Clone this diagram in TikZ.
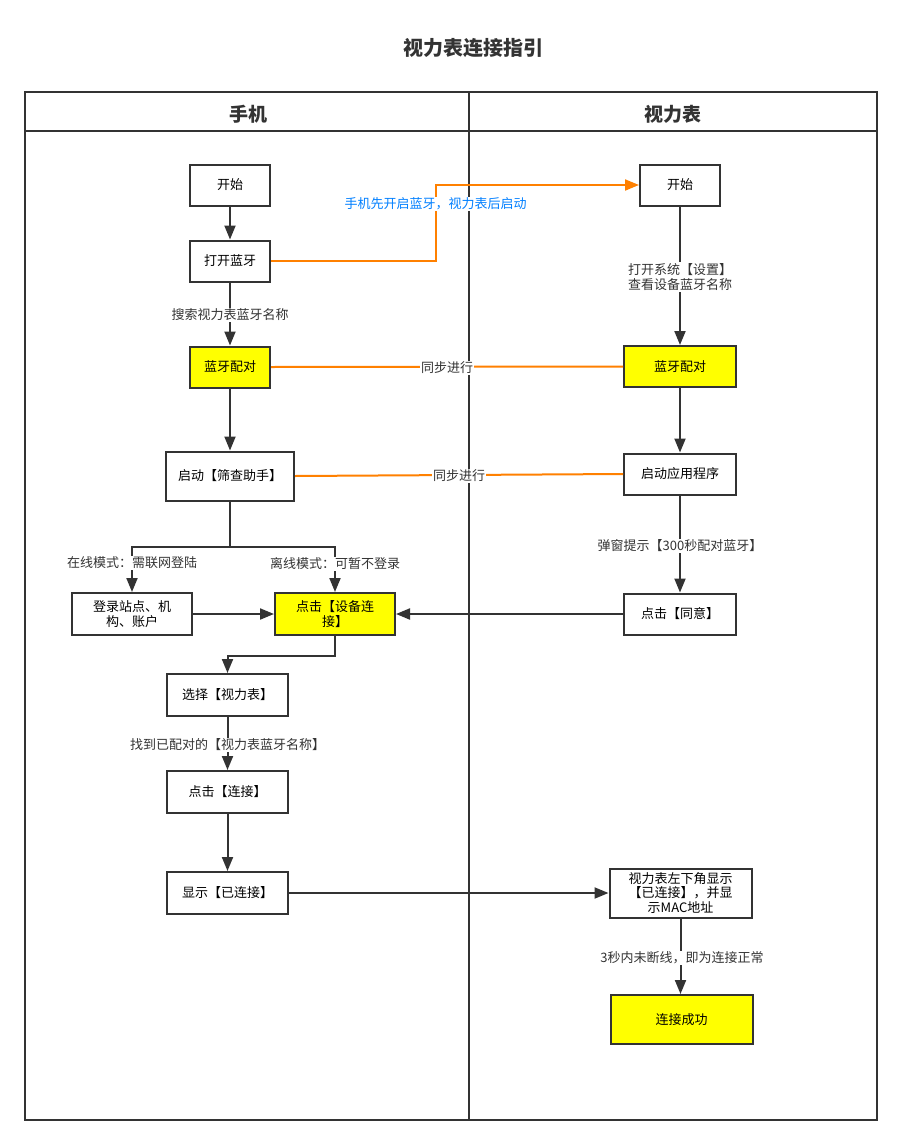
\documentclass[tikz,border=0pt]{standalone}
\usepackage{fontspec}
\setmainfont{Noto Sans CJK SC}
\usetikzlibrary{arrows.meta}
\definecolor{lc}{HTML}{333333}
\definecolor{org}{HTML}{FF8000}
\definecolor{blu}{HTML}{007FFF}
\definecolor{yel}{HTML}{FFFF00}
\tikzset{
  box/.style={draw=lc, line width=2pt, fill=white, inner sep=0pt, align=center,
    minimum width=80pt, minimum height=41pt, font=\fontsize{13}{15.5}\selectfont},
  ybox/.style={box, fill=yel},
  lane/.style={draw=lc, line width=2pt},
  conn/.style={draw=lc, line width=2pt},
  arr/.style={conn, -{Triangle[length=14pt,width=11pt]}},
  oline/.style={draw=org, line width=2pt},
  oarr/.style={oline, -{Triangle[length=14pt,width=11pt]}},
  lbl/.style={fill=white, inner sep=1pt, text=lc, font=\fontsize{13}{15.5}\selectfont, align=left},
  blbl/.style={lbl, text=blu},
}
\begin{document}
\begin{tikzpicture}[x=1pt,y=-1pt]
\useasboundingbox (0,0) rectangle (901,1146);
% title
\node[font=\fontsize{20}{24}\selectfont\bfseries, text=lc] (title) at (473,48) {视力表连接指引};
% pool
\draw[lane] (25,92) rectangle (877,1120);
\draw[lane] (469,92) -- (469,1120);
\draw[lane] (25,131) -- (877,131);
\node[font=\fontsize{19}{22}\selectfont\bfseries, text=lc] (h1) at (248,114) {手机};
\node[font=\fontsize{19}{22}\selectfont\bfseries, text=lc] (h2) at (673,114) {视力表};
% left nodes
\node[box] (l1) at (230,185) {开始};
\node[box] (l2) at (230,261) {打开蓝牙};
\node[ybox] (l3) at (230,367) {蓝牙配对};
\node[box, minimum width=128pt, minimum height=49pt] (l4) at (230,476) {启动【筛查助手】};
\node[box, minimum width=120pt, minimum height=42pt] (l5) at (132,614) {登录站点、机\\构、账户};
\node[ybox, minimum width=120pt, minimum height=42pt] (l6) at (335,614) {点击【设备连\\接】};
\node[box, minimum width=121pt, minimum height=42pt] (l7) at (227.5,695) {选择【视力表】};
\node[box, minimum width=121pt, minimum height=42pt] (l8) at (227.5,792) {点击【连接】};
\node[box, minimum width=121pt, minimum height=42pt] (l9) at (227.5,893) {显示【已连接】};
% right nodes
\node[box] (r1) at (680,185) {开始};
\node[ybox, minimum width=112pt] (r2) at (680,366.5) {蓝牙配对};
\node[box, minimum width=112pt] (r3) at (680,474) {启动应用程序};
\node[box, minimum width=112pt] (r4) at (680,614) {点击【同意】};
\node[box, minimum width=142pt, minimum height=49pt, font=\fontsize{13}{14.5}\selectfont] (r5) at (680.5,893) {视力表左下角显示\\【已连接】，并显\\示MAC地址};
\node[ybox, minimum width=142pt, minimum height=49pt] (r6) at (681.5,1019.5) {连接成功};
% left connectors
\draw[arr] (l1) -- (l2);
\draw[arr] (l2) -- (l3);
\node[lbl] (t1) at (230,315) {搜索视力表蓝牙名称};
\draw[arr] (l3) -- (l4);
\draw[conn] (l4.south) -- (230,547) coordinate (sp);
\draw[arr] (sp) -| (l5.north);
\draw[arr] (sp) -| (l6.north);
\node[lbl] (t2) at (132,563) {在线模式：需联网登陆};
\node[lbl] (t3) at (335,564) {离线模式：可暂不登录};
\draw[arr] (l5) -- (l6);
\draw[arr] (l6.south) -- ++(0,20) -| (l7.north);
\draw[arr] (l7) -- (l8);
\node[lbl] (t4) at (227.5,745) {找到已配对的【视力表蓝牙名称】};
\draw[arr] (l8) -- (l9);
\draw[arr] (l9) -- (l9 -| r5.west);
% right connectors
\draw[arr] (r1) -- (r2);
\node[lbl] (t5) at (680,277) {打开系统【设置】\\查看设备蓝牙名称};
\draw[arr] (r2) -- (r3);
\draw[arr] (r3) -- (r4);
\node[lbl] (t6) at (680,546) {弹窗提示【300秒配对蓝牙】};
\draw[arr] (r4) -- (l6);
\draw[arr] (r5.south) -- (r5.south |- r6.north);
\node[lbl] (t7) at (682,958) {3秒内未断线，即为连接正常};
% orange connectors
\draw[oarr] (l2.east) -- ++(165,0) |- (r1.west);
\node[blbl] (t8) at (435.5,204) {手机先开启蓝牙，视力表后启动};
\draw[oline] (l3.east) -- (r2.west);
\node[lbl] (t9) at (447,368) {同步进行};
\draw[oline] (l4.east) -- (r3.west);
\node[lbl] (t10) at (459,476) {同步进行};
\end{tikzpicture}
\end{document}
